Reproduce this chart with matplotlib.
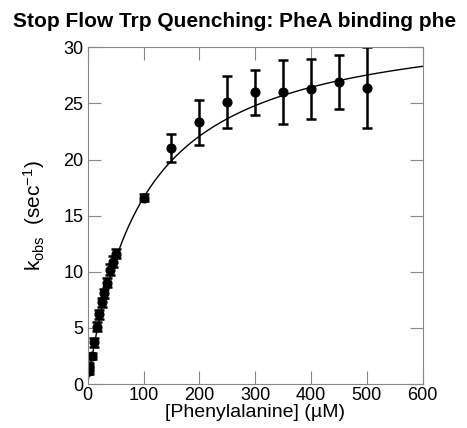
import numpy as np
import matplotlib
matplotlib.use('Agg')
import matplotlib.pyplot as plt

plt.rcParams['font.family'] = ['Liberation Sans', 'DejaVu Sans']
plt.rcParams['mathtext.default'] = 'regular'

# data
conc = [2, 3, 7, 12, 16, 20, 25, 30, 35, 40, 45, 50,
        100, 150, 200, 250, 300, 350, 400, 450, 500]
kobs = [1.2, 1.6, 2.5, 3.7, 5.1, 6.2, 7.3, 8.1, 9.0, 10.2, 10.9, 11.6,
        16.6, 21.0, 23.3, 25.1, 26.0, 26.0, 26.3, 26.9, 26.4]
kobs_err = [0.3, 0.3, 0.3, 0.4, 0.4, 0.4, 0.4, 0.4, 0.4, 0.5, 0.5, 0.4,
            0.3, 1.25, 2.0, 2.3, 2.0, 2.85, 2.65, 2.4, 3.6]

# hyperbolic fit parameters
kmax = 32.95
kd = 98.5

fig = plt.figure(figsize=(4.67, 4.28), dpi=100)
ax = fig.add_axes([0.1878, 0.1028, 0.7172, 0.7867])

xfit = np.linspace(0, 600, 400)
ax.plot(xfit, kmax * xfit / (kd + xfit), color='black', lw=1.0)

ax.errorbar(conc, kobs, yerr=kobs_err, fmt='o', color='black',
            markersize=6.3, elinewidth=1.8, capsize=3.8, capthick=1.8)

ax.set_xlim(0, 600)
ax.set_ylim(0, 30)
ax.set_xticks(np.arange(0, 601, 100))
ax.set_yticks(np.arange(0, 31, 5))
ax.tick_params(direction='in', length=9.5, width=0.8, color='#888888',
               top=True, right=True, labelsize=13, pad=2)
ax.tick_params(axis='y', pad=3)
for spine in ax.spines.values():
    spine.set_edgecolor('#888888')
    spine.set_linewidth(0.8)

ax.set_xlabel('[Phenylalanine] (µM)', fontsize=14, labelpad=0)
ax.set_ylabel(r'k$_{obs}$  (sec$^{-1}$)', fontsize=15, labelpad=12)

fig.text(13 / 467, 0.949, 'Stop Flow Trp Quenching: PheA binding phe',
         fontsize=15.0, fontweight='bold', ha='left', va='center')

fig.savefig('out.png', dpi=100)
